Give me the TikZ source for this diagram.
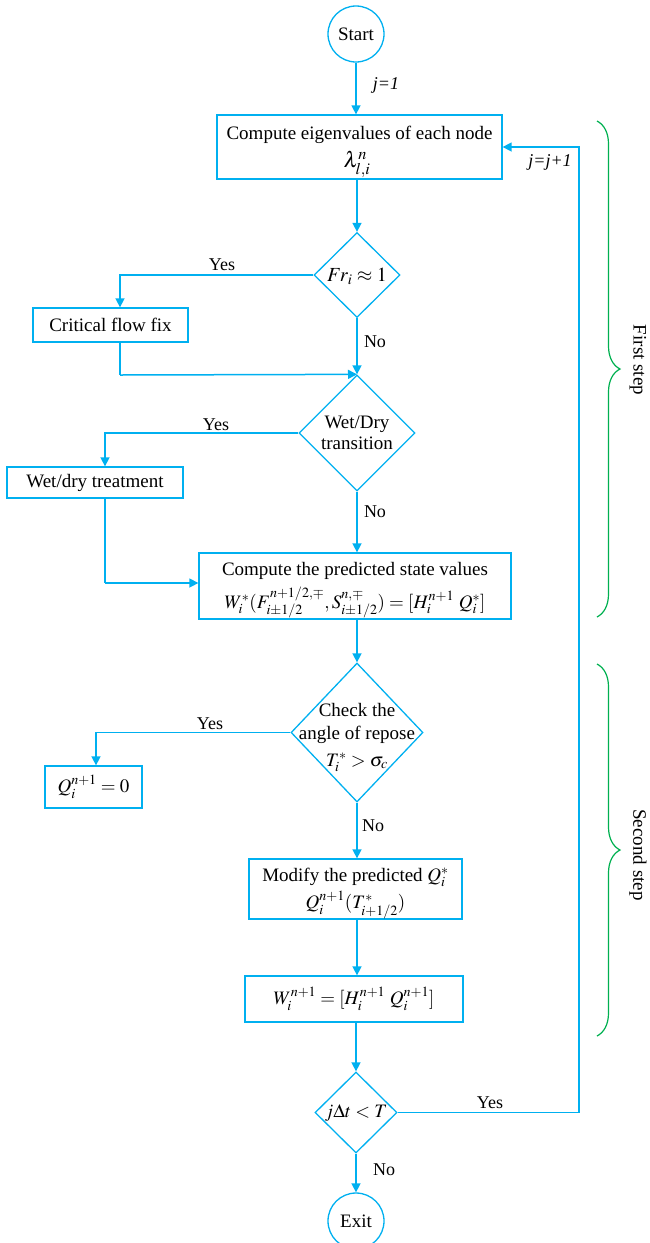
\documentclass[tikz,border=0pt]{standalone}
\usepackage{mathptmx}
\usepackage[no-math]{fontspec}
\setmainfont{Liberation Serif}
\newfontfamily\tnr{Liberation Serif}
\usetikzlibrary{shapes.geometric,arrows.meta,decorations.pathreplacing}
\definecolor{fblue}{HTML}{00B0F0}
\definecolor{fgreen}{HTML}{00B050}
\begin{document}
\begin{tikzpicture}[x=1pt,y=-1pt,
  every node/.style={font=\tnr\fontsize{19}{22}\selectfont, inner sep=0pt},
  arr/.style={draw=fblue, line width=1.5pt, -{Triangle[width=9pt,length=9pt]}},
  ln/.style={draw=fblue, line width=1.5pt},
  procbox/.style={draw=fblue, line width=1.3pt, rectangle},
  term/.style={draw=fblue, line width=1.3pt, circle, minimum size=56pt},
  dia/.style={draw=fblue, line width=1.3pt, diamond, inner sep=0pt, aspect=1},
  lab/.style={font=\tnr\fontsize{18}{20}\selectfont},
  brc/.style={draw=fgreen, line width=1.2pt, decorate, decoration={brace, amplitude=23pt, aspect=0.5}}
]
\useasboundingbox (0,0) rectangle (649,1243);

% nodes
\node[term] (start) at (356,34) {Start};
\node[procbox, minimum width=285pt, minimum height=64pt] (eig) at (359.5,147) {};
\node (eigt) at (359.5,135) {Compute eigenvalues of each node};
\node (eigm) at (357,164) {\fontsize{22}{24}\selectfont$\lambda_{l,i}^{n}$};

\node[dia, minimum width=86pt, minimum height=85pt] (fr) at (357,275) {};
\node (frt) at (357,276) {\fontsize{20}{24}\selectfont $Fr_i \approx 1$};

\node[procbox, minimum width=155pt, minimum height=34pt] (crit) at (110.5,325) {Critical flow fix};

\node[dia, minimum width=116pt, minimum height=116pt] (wd) at (357,433) {};
\node[align=center, font=\tnr\fontsize{19}{21}\selectfont] (wdt) at (357,433) {Wet/Dry\\transition};

\node[procbox, minimum width=176pt, minimum height=31pt] (wdb) at (95,482.5) {Wet/dry treatment};

\node[procbox, minimum width=312pt, minimum height=66pt] (pred) at (355,586) {};
\node (predt) at (355,571) {Compute the predicted state values};
\node (predm) at (355,603) {$W_i^*(F_{i\pm1/2}^{n+1/2,\mp}, S_{i\pm1/2}^{n,\mp}) = [H_i^{n+1}\ Q_i^*]$};

\node[dia, minimum width=132pt, minimum height=139pt] (chk) at (357,732.5) {};
\node (chkt1) at (357,710) {Check the};
\node (chkt2) at (357,735) {angle of repose};
\node (chkm) at (357,762) {$T_i^* > \sigma_c$};

\node[procbox, minimum width=97pt, minimum height=42pt] (q0) at (93.5,787) {$Q_i^{n+1} = 0$};

\node[procbox, minimum width=213pt, minimum height=60pt] (mod) at (355.5,889) {};
\node (modt) at (355.5,877) {Modify the predicted $Q_i^*$};
\node (modm) at (355.5,905) {$Q_i^{n+1}(T_{i+1/2}^*)$};

\node[procbox, minimum width=218pt, minimum height=46pt] (wn) at (354,999) {$W_i^{n+1} = [H_i^{n+1}\ Q_i^{n+1}]$};

\node[dia, minimum width=82pt, minimum height=81pt] (jt) at (356,1112.5) {};
\node (jtt) at (356,1113) {$j\Delta t < T$};

\node[term] (exit) at (356,1221) {Exit};

% helper coordinates
\coordinate (c1) at (120,275);
\coordinate (c2) at (120,375);
\coordinate (c3) at (105,433);
\coordinate (c4) at (105,583);
\coordinate (c5) at (96,732.5);
\coordinate (c6) at (579,1112.5);
\coordinate (c7) at (579,147);

% connectors
\draw[arr] (start.south) -- (start.south |- eig.north);
\draw[arr] (fr.north |- eig.south) -- (fr.north);
\draw[arr] (fr.west) -- (c1) -- (c1 |- crit.north);
\draw[arr] (fr.south) -- (wd.north);
\draw[ln] (c1 |- crit.south) -- (c2);
\draw[arr] (c2) -- (wd.north);
\draw[arr] (wd.west) -- (c3) -- (c3 |- wdb.north);
\draw[arr] (wd.south) -- (wd.south |- pred.north);
\draw[ln] (c3 |- wdb.south) -- (c4);
\draw[arr] (c4) -- (c4 -| pred.west);
\draw[arr] (chk.north |- pred.south) -- (chk.north);
\draw[arr] (chk.west) -- (c5) -- (c5 |- q0.north);
\draw[arr] (chk.south) -- (chk.south |- mod.north);
\draw[arr] (chk.south |- mod.south) -- (chk.south |- wn.north);
\draw[arr] (jt.north |- wn.south) -- (jt.north);
\draw[arr] (jt.south) -- (exit.north);
\draw[arr] (jt.east) -- (c6) -- (c7) -- (c7 -| eig.east);

% labels
\node[font=\tnr\itshape\fontsize{18}{20}\selectfont] (l1) at (386,85) {j=1};
\node[font=\tnr\itshape\fontsize{18}{20}\selectfont] (l2) at (550,162) {j=j+1};
\node[lab] (y1) at (222,265) {Yes};
\node[lab] (n1) at (375,342) {No};
\node[lab] (y2) at (216,425) {Yes};
\node[lab] (n2) at (375,512) {No};
\node[lab] (y3) at (210,724) {Yes};
\node[lab] (n3) at (373,826) {No};
\node[lab] (y4) at (490,1103) {Yes};
\node[lab] (n4) at (384,1170) {No};

% braces
\draw[brc] (597,121) -- (597,617);
\draw[brc] (597,664) -- (597,1036);
\node[rotate=-90] (s1) at (638,360) {First step};
\node[rotate=-90] (s2) at (638,855) {Second step};
\end{tikzpicture}
\end{document}
